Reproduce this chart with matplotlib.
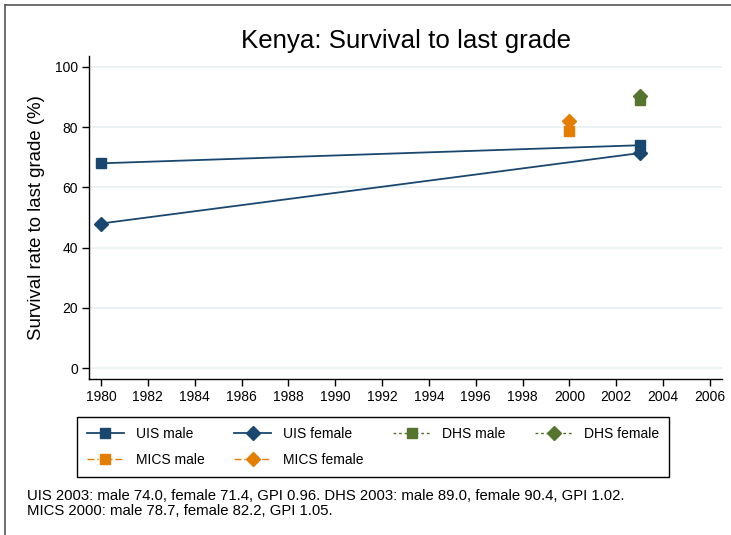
import matplotlib.pyplot as plt
from matplotlib.lines import Line2D

plt.rcParams["font.family"] = ["Liberation Sans", "DejaVu Sans"]

# data
uis_years = [1980, 2003]
uis_male = [68.0, 74.0]
uis_female = [48.0, 71.4]
dhs_years = [2003]
dhs_male = [89.0]
dhs_female = [90.4]
mics_years = [2000]
mics_male = [78.7]
mics_female = [82.2]

x_ticks = list(range(1980, 2007, 2))
y_ticks = [0, 20, 40, 60, 80, 100]

note = ("UIS 2003: male 74.0, female 71.4, GPI 0.96. DHS 2003: male 89.0, female 90.4, GPI 1.02.\n"
        "MICS 2000: male 78.7, female 82.2, GPI 1.05.")

navy = "#1a476f"
green = "#55752f"
orange = "#e37e00"

W, H = 731, 535
fig = plt.figure(figsize=(W / 100, H / 100), dpi=100)
ax = fig.add_axes([89 / W, 1 - 379 / H, (722 - 89) / W, (379 - 56) / H])

# squares first, diamonds on top
h1, = ax.plot(uis_years, uis_male, color=navy, lw=1.3, marker="s", ms=7, label="UIS male")
h3, = ax.plot(dhs_years, dhs_male, color=green, lw=1.0, ls=(0, (2, 2)), marker="s", ms=7, label="DHS male")
h5, = ax.plot(mics_years, mics_male, color=orange, lw=1.0, ls=(0, (5, 2, 1, 2)), marker="s", ms=7, label="MICS male")
h2, = ax.plot(uis_years, uis_female, color=navy, lw=1.3, marker="D", ms=7, label="UIS female")
h4, = ax.plot(dhs_years, dhs_female, color=green, lw=1.0, ls=(0, (2, 2)), marker="D", ms=7, label="DHS female")
h6, = ax.plot(mics_years, mics_female, color=orange, lw=1.0, ls=(0, (5, 2, 1, 2)), marker="D", ms=7, label="MICS female")

ax.set_xlim(1979.49, 2006.51)
ax.set_ylim(-3.65, 103.65)
ax.set_xticks(x_ticks)
ax.set_yticks(y_ticks)
ax.tick_params(labelsize=10, length=5, width=1, color="black", pad=3)
ax.grid(axis="y", color="#e8f0f1", lw=1.2)
ax.set_axisbelow(True)
for side in ["top", "right"]:
    ax.spines[side].set_visible(False)
for side in ["left", "bottom"]:
    ax.spines[side].set_linewidth(1.0)

ax.set_ylabel("Survival rate to last grade (%)", fontsize=13.4, labelpad=7)
fig.text(406 / W, 1 - 41 / H, "Kenya: Survival to last grade", fontsize=18.6,
         ha="center", va="center")

# legend fills column by column, so order the handles to read row-wise
leg = fig.legend(handles=[h1, h5, h2, h6, h3, h4], ncol=4, loc="upper left",
                 bbox_to_anchor=(77 / W, 1 - 417 / H), fontsize=10,
                 handlelength=2.7, handletextpad=0.85, columnspacing=2.1,
                 labelspacing=0.9, borderpad=0.7, borderaxespad=0,
                 fancybox=False, framealpha=1, edgecolor="black")
leg.get_frame().set_linewidth(1.0)

fig.text(27 / W, 1 - 489 / H, note, fontsize=10.7, ha="left", va="top", linespacing=1.07)

# outer frame of the (cropped) graph region
fig.add_artist(Line2D([5 / W, 5 / W], [0, 1 - 4.5 / H], color="#555555", lw=1.2,
                      transform=fig.transFigure))
fig.add_artist(Line2D([5 / W, 1], [1 - 4.5 / H, 1 - 4.5 / H], color="#555555", lw=1.2,
                      transform=fig.transFigure))

fig.savefig("out.png", dpi=100)
